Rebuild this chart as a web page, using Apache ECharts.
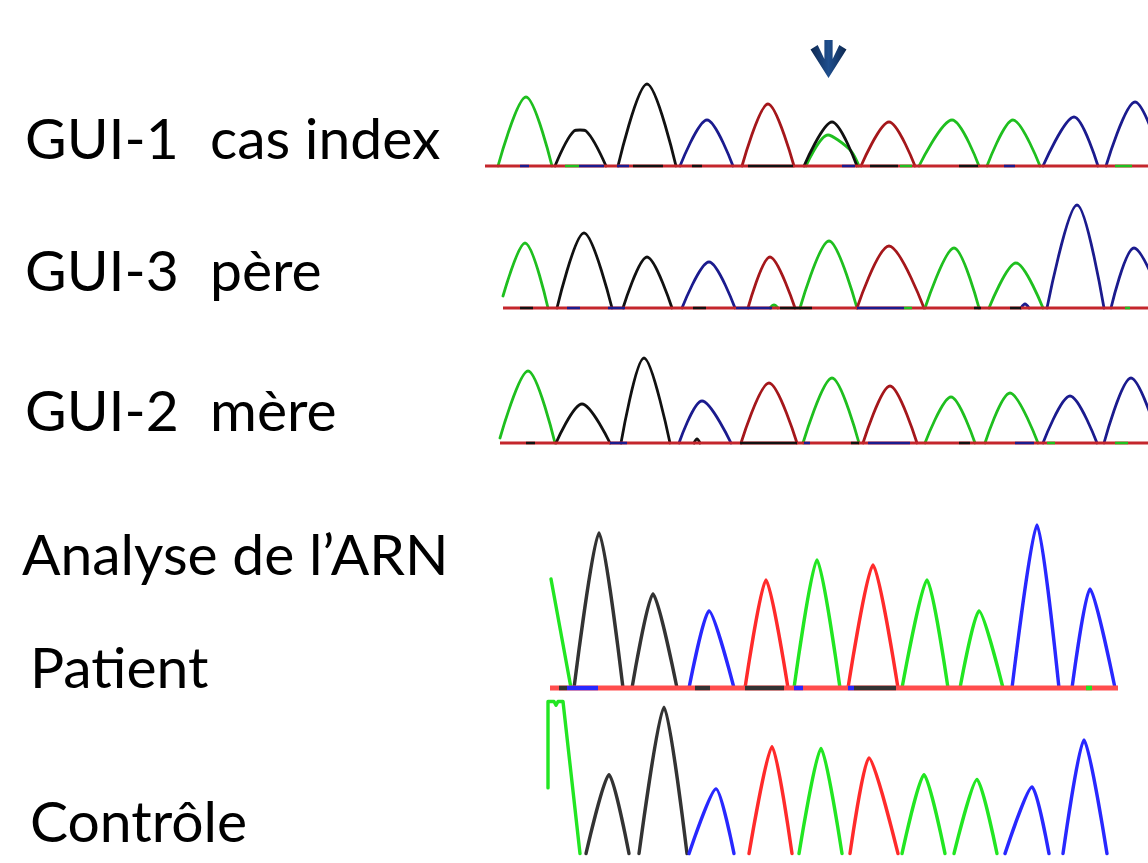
<!DOCTYPE html>
<html><head><meta charset="utf-8">
<script src="https://cdn.jsdelivr.net/npm/echarts@6/dist/echarts.min.js"></script>
<style>html,body{margin:0;padding:0;background:#fff}#c{width:1148px;height:863px}</style>
</head><body><div id="c"></div>
<script>
// ---- data (x = trace position, y = signal intensity) ----
// peaks: [base, start, apex, height, end]
const guiOnePeaks = [
  ['A',18,46,69,72], ['G',138,167,82,196], ['C',200,227,46,253], ['T',262,288,62,314],
  ['G',324,352,44,377], ['T',381,409,44,435], ['A',439,472,46,499], ['A',507,533,46,560],
  ['C',563,594,49,618], ['C',626,655,64,684]
];
const guiOneTraces = [
  ['G',[[75,0],[94,35],[100,36],[106,35],[126,0]]],
  ['A',[[326,0],[348,31],[358,26],[371,15],[379,0]]]
];
const guiOneBaseSeg = [['C',40,49],['A',85,99],['C',99,124],['C',137,149],['G',153,183],['G',212,222],
  ['G',268,313],['C',362,375],['G',390,418],['A',420,432],['G',479,498],['C',524,535],['A',635,652]];
const guiThreePeaks = [
  ['G',77,104,75,132], ['G',143,167,51,192], ['C',202,229,46,255], ['T',268,290,51,315],
  ['A',290,294,3,298], ['A',320,349,67,377], ['T',377,409,62,444], ['A',445,474,60,499],
  ['A',509,536,45,563], ['C',541,545,4,549], ['C',567,597,103,624], ['C',631,654,60,685]
];
const guiThreeTraces = [['A',[[23,12],[45,65],[68,0]]]];
const guiThreeBaseSeg = [['G',40,53],['C',87,100],['C',128,145],['G',213,226],['C',256,292],['G',300,332],
  ['C',377,424],['A',424,432],['G',494,501],['G',530,541],['A',645,650]];
const guiTwoPeaks = [
  ['G',76,102,39,130], ['G',141,164,85,190], ['C',199,222,42,251], ['G',214,217,4,220],
  ['T',261,289,60,317], ['A',323,352,65,379], ['T',383,410,57,437], ['A',445,471,46,495],
  ['A',505,530,50,558], ['C',563,590,47,617], ['C',624,651,65,680]
];
const guiTwoTraces = [['A',[[20,5],[48,72],[75,0]]]];
const guiTwoBaseSeg = [['G',46,55],['C',130,147],['G',260,317],['C',324,330],['G',371,379],['C',388,430],
  ['G',479,490],['C',535,554],['A',567,575],['A',635,648]];
const patientPeaks = [
  ['G',94,119,155,143], ['G',152,173,94,197], ['C',209,229,77,254], ['T',265,286,108,308],
  ['A',314,337,128,360], ['T',368,393,123,418], ['A',422,447,108,468], ['A',480,499,77,523],
  ['C',532,557,163,579], ['C',592,610,99,635]
];
const patientTraces = [['A',[[71,109],[91,0]]]];
const patientBaseSeg = [['G',79,87],['C',87,118],['G',215,230],['G',265,304],['C',314,323],['C',368,374],
  ['G',374,416],['A',606,612]];
const controlPeaks = [
  ['G',106,129,84,149], ['G',159,184,156,207], ['C',209,236,69,254], ['T',269,292,114,312],
  ['A',319,341,112,362], ['T',370,389,102,418], ['A',422,444,84,465], ['A',474,497,79,517],
  ['C',525,552,71,569], ['C',583,604,121,627]
];
const controlTraces = [['A',[[68,70],[68,162],[74,162],[76,158],[78,162],[83,162],[100,0]]]];
const arrowMark = [348.5, 107];

// ---- layout / style ----
const dyeDark = {A:'#1fbf1f', C:'#1b1b8e', G:'#111111', T:'#a5171b'};
const dyeBright = {A:'#22e622', C:'#2828ff', G:'#333333', T:'#ff2b2b'};
const panels = [
  {peaks:guiOnePeaks, traces:guiOneTraces, seg:guiOneBaseSeg, base:[5,668], top:40, h:126, colors:dyeDark, lw:2.8, smooth:0.33, baseColor:'#c4262c', baseW:3.2},
  {peaks:guiThreePeaks, traces:guiThreeTraces, seg:guiThreeBaseSeg, base:[23,668], top:198, h:110, colors:dyeDark, lw:2.8, smooth:0.33, baseColor:'#c4262c', baseW:3.2},
  {peaks:guiTwoPeaks, traces:guiTwoTraces, seg:guiTwoBaseSeg, base:[20,668], top:348, h:95, colors:dyeDark, lw:2.8, smooth:0.33, baseColor:'#c4262c', baseW:3.2},
  {peaks:patientPeaks, traces:patientTraces, seg:patientBaseSeg, base:[70,638], top:518, h:170, colors:dyeBright, lw:3.4, smooth:0.22, baseColor:'#ff4d4d', baseW:5},
  {peaks:controlPeaks, traces:controlTraces, seg:[], base:null, top:694, h:170, colors:dyeBright, lw:3.4, smooth:0.22}
];
const pad = 10;
const grid = [], xAxis = [], yAxis = [], series = [];
panels.forEach((p, i) => {
  grid.push({left:480, width:668, top:p.top, height:p.h + pad});
  xAxis.push({type:'value', gridIndex:i, min:0, max:668, show:false});
  yAxis.push({type:'value', gridIndex:i, min:-pad, max:p.h, show:false});
  const common = {type:'line', xAxisIndex:i, yAxisIndex:i, showSymbol:false, symbol:'none', silent:true, animation:false, clip:true};
  p.traces.forEach(t => series.push(Object.assign({}, common, {
    data:t[1], smooth: (i === 4 ? false : p.smooth), lineStyle:{color:p.colors[t[0]], width:p.lw, join:'round', cap:'round'}, z:2})));
  p.peaks.forEach(k => series.push(Object.assign({}, common, {
    data:[[k[1],0],[k[2],k[3]],[k[4],0]], smooth:p.smooth,
    lineStyle:{color:p.colors[k[0]], width:p.lw, join:'round', cap:'round'}, z:2})));
  if (p.base) {
    series.push(Object.assign({}, common, {data:[[p.base[0],0],[p.base[1],0]], lineStyle:{color:p.baseColor, width:p.baseW}, z:3}));
    p.seg.forEach(s => series.push(Object.assign({}, common, {
      data:[[s[1],0],[s[2],0]], lineStyle:{color:p.colors[s[0]], width:p.baseW - 0.6}, z:4})));
  }
});
series.push({type:'scatter', xAxisIndex:0, yAxisIndex:0, data:[arrowMark], silent:true, animation:false, z:5,
  symbol:'path://M14,0 L22,0 L22,19 L28.5,5 L35.5,9.5 L18,38 L0.5,9.5 L7.5,5 L14,19 Z',
  symbolSize:[36,38],
  itemStyle:{opacity:1, color:new echarts.graphic.LinearGradient(0,0,1,0,[{offset:0,color:'#0e2850'},{offset:0.5,color:'#1f4f8e'},{offset:1,color:'#0e2850'}])}});

const labelFont = '57px Lato';
const labels = [
  ['GUI-1',25,137], ['cas index',210,137], ['GUI-3',25,269], ['père',210,269],
  ['GUI-2',25,409], ['mère',210,409], ['Analyse de l’ARN',22,553], ['Patient',30,666], ['Contrôle',30,820]
];
const graphic = labels.map(l => ({type:'text', x:l[1], y:l[2], silent:true,
  style:{text:l[0], font:labelFont, fill:'#000', align:'left', verticalAlign:'middle', textAlign:'left', textVerticalAlign:'middle'}}));

const chart = echarts.init(document.getElementById('c'), null, {renderer:'svg', width:1148, height:863});
chart.setOption({backgroundColor:'#fff', animation:false, grid, xAxis, yAxis, series, graphic});
</script></body></html>
